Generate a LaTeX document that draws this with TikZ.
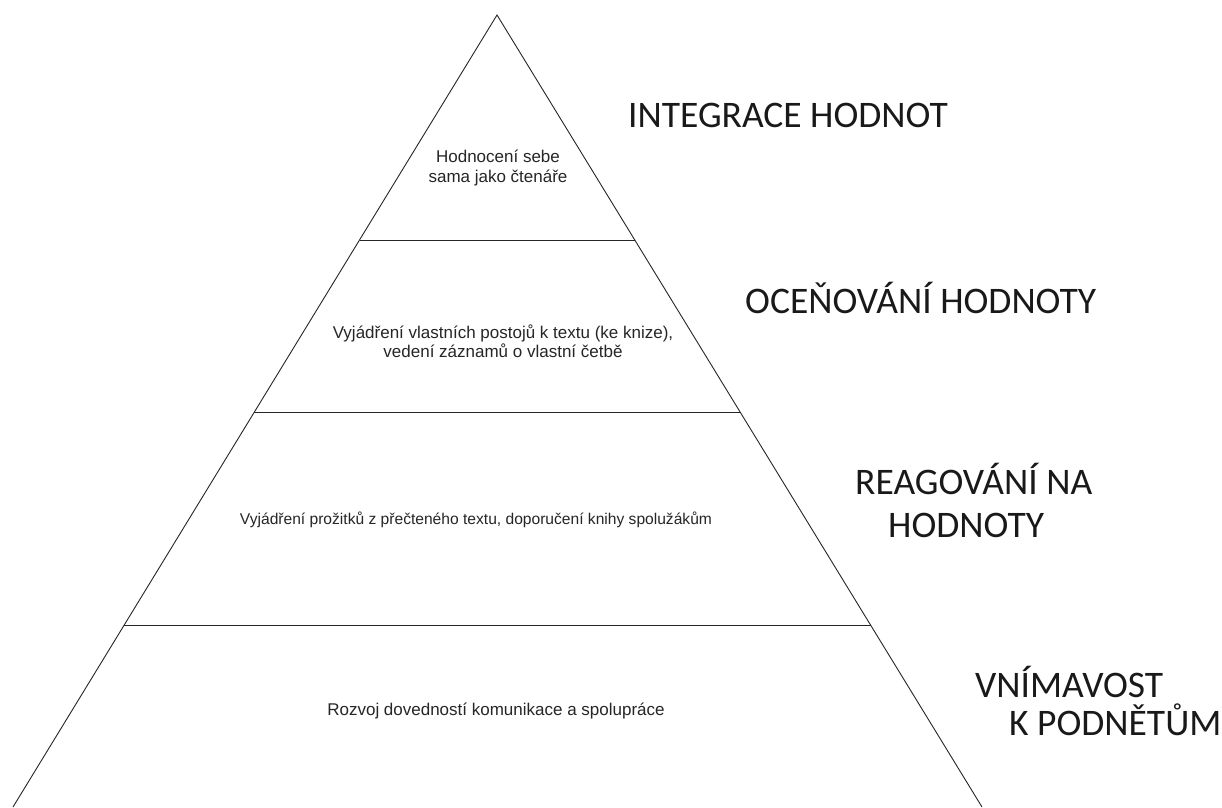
\documentclass[tikz,border=0pt]{standalone}
\usepackage{fontspec}
\usetikzlibrary{calc}
\setmainfont{Liberation Sans}
\newfontfamily\labelfont{Carlito}
\begin{document}
\begin{tikzpicture}[x=1pt,y=-1pt,
  edge/.style={draw=black!85,line width=0.9pt},
  inner/.style={font=\fontsize{17}{19.5}\selectfont,align=center,inner sep=0pt,text=black!85},
  level/.style={font=\labelfont\fontsize{37.5}{43}\selectfont,inner sep=0pt,text=black!90}]
\useasboundingbox[fill=white] (0,0) rectangle (1222,807);
\coordinate (apex) at (497,15);
\coordinate (bl) at (13,807);
\coordinate (br) at (982,807);
\draw[edge] (bl) -- (apex) -- (br);
\coordinate (l1) at ($(apex)!{225/792}!(bl)$);
\coordinate (r1) at ($(apex)!{225/792}!(br)$);
\coordinate (l2) at ($(apex)!{397/792}!(bl)$);
\coordinate (r2) at ($(apex)!{397/792}!(br)$);
\coordinate (l3) at ($(apex)!{610/792}!(bl)$);
\coordinate (r3) at ($(apex)!{610/792}!(br)$);
\draw[edge] (l1) -- (r1);
\draw[edge] (l2) -- (r2);
\draw[edge] (l3) -- (r3);
\node[inner] (t1) at (498,168) {Hodnocení sebe\\sama jako čtenáře};
\node[inner] (t2) at (503,341) {Vyjádření vlastních postojů k textu (ke knize),\\vedení záznamů o vlastní četbě};
\node[inner,font=\fontsize{15.6}{19}\selectfont] (t3) at (476,520) {Vyjádření prožitků z přečteného textu, doporučení knihy spolužákům};
\node[inner] (t4) at (496,711) {Rozvoj dovedností komunikace a spolupráce};
\node[level,anchor=base west] (h1) at (628,127) {INTEGRACE HODNOT};
\node[level,anchor=base west] (h2) at (745,313) {OCEŇOVÁNÍ HODNOTY};
\node[level,align=left,anchor=north west] (h3) at (855,463) {REAGOVÁNÍ NA\\\hspace*{33pt}HODNOTY};
\node[level,anchor=base west] (h4a) at (975,697) {VNÍMAVOST};
\node[level,anchor=base west] (h4b) at (1009,735) {K PODNĚTŮM};
\end{tikzpicture}
\end{document}
